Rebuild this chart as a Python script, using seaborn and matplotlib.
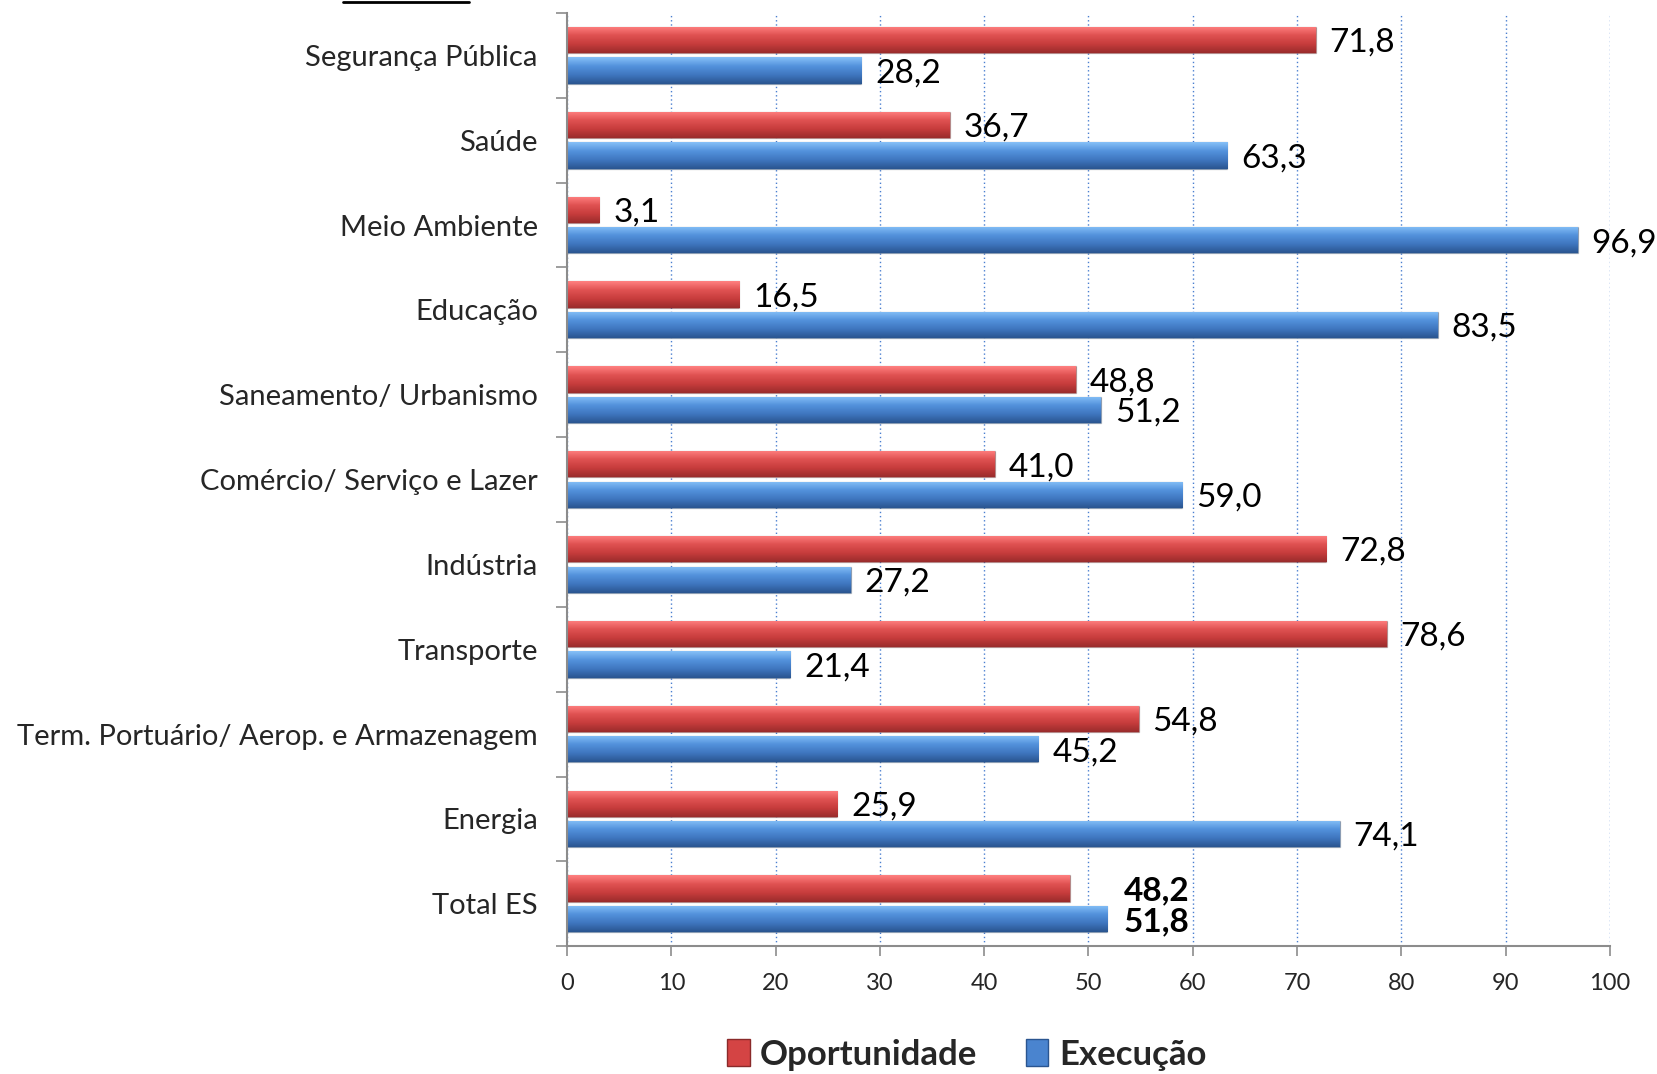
import numpy as np
import pandas as pd
import matplotlib.pyplot as plt
import seaborn as sns
from matplotlib.colors import LinearSegmentedColormap
from matplotlib.patches import Patch

sns.set_style("white")
plt.rcParams["font.family"] = ["Lato", "DejaVu Sans"]

categories = ["Segurança Pública", "Saúde", "Meio Ambiente", "Educação",
              "Saneamento/ Urbanismo", "Comércio/ Serviço e Lazer", "Indústria",
              "Transporte", "Term. Portuário/ Aerop. e Armazenagem", "Energia", "Total ES"]
oportunidade = [71.8, 36.7, 3.1, 16.5, 48.8, 41.0, 72.8, 78.6, 54.8, 25.9, 48.2]
execucao = [28.2, 63.3, 96.9, 83.5, 51.2, 59.0, 27.2, 21.4, 45.2, 74.1, 51.8]
series = ["Oportunidade", "Execução"]
xticks = list(range(0, 101, 10))

df = pd.DataFrame({
    "categoria": categories * 2,
    "valor": oportunidade + execucao,
    "serie": [series[0]] * len(categories) + [series[1]] * len(categories),
})

red = "#d44444"
blue = "#4a84cf"
grad = {
    red: ["#ff8080", "#e05252", "#c63c3c", "#9a2c2c"],
    blue: ["#86c0f8", "#5392dc", "#3f76bf", "#2a5590"],
}

fig = plt.figure(figsize=(16.58, 10.74), dpi=100)
ax = fig.add_axes([0.342, 0.119, 0.629, 0.869])

sns.barplot(data=df, x="valor", y="categoria", hue="serie", orient="h",
            palette=[red, blue], width=0.72, gap=0.14, ax=ax, legend=False)

ax.set_xlim(0, 100)
ylim = ax.get_ylim()

# fake bevel: gradient clipped to each bar
for cont, col in zip(ax.containers, [red, blue]):
    cmap = LinearSegmentedColormap.from_list("g", grad[col])
    for p in cont:
        x0, y0 = p.get_x(), p.get_y()
        w, h = p.get_width(), p.get_height()
        img = ax.imshow(np.linspace(0, 1, 64).reshape(-1, 1), cmap=cmap, aspect="auto",
                        extent=[x0, x0 + w, y0 + h, y0], origin="upper", zorder=p.get_zorder() + 0.1)
        img.set_clip_path(p)
        p.set_edgecolor("#00000030")
ax.set_xlim(0, 100)
ax.set_ylim(ylim)

# value labels
n = len(categories)
for k, (cont, vals) in enumerate(zip(ax.containers, [oportunidade, execucao])):
    for i, (p, v) in enumerate(zip(cont, vals)):
        yc = p.get_y() + p.get_height() / 2
        txt = f"{v:.1f}".replace(".", ",")
        if i == n - 1:
            xpos = max(oportunidade[i], execucao[i])
            ax.annotate(txt, (xpos, yc), xytext=(12, -2), textcoords="offset points",
                        va="center", ha="left", fontsize=24, fontweight="bold", color="black")
        else:
            ax.annotate(txt, (v, yc), xytext=(10, -2), textcoords="offset points",
                        va="center", ha="left", fontsize=24, color="black")

# grid / spines
ax.set_xticks(xticks)
ax.xaxis.grid(True, linestyle=(0, (1, 2)), color="#4a7fd0", linewidth=1.0)
ax.set_axisbelow(True)
for s in ["top", "right"]:
    ax.spines[s].set_visible(False)
for s in ["left", "bottom"]:
    ax.spines[s].set_color("#8c8c8c")
    ax.spines[s].set_linewidth(1.5)
ax.tick_params(axis="x", length=7, width=1.2, color="#8c8c8c", labelsize=17, pad=12, bottom=True)
ax.tick_params(axis="y", which="major", length=0, labelsize=21, pad=21)
ax.set_yticks(np.arange(-0.5, n, 1), minor=True)
ax.tick_params(axis="y", which="minor", length=8, width=1.2, color="#8c8c8c", left=True)
ax.set_xlabel("")
ax.set_ylabel("")

# legend
handles = [Patch(facecolor=red, edgecolor="#8a2a2a"), Patch(facecolor=blue, edgecolor="#2a5590")]
fig.legend(handles, series, loc="lower center", bbox_to_anchor=(0.583, -0.026), ncol=2,
           frameon=False, prop={"size": 25, "weight": "bold"}, handlelength=0.65, handleheight=0.8,
           handletextpad=0.3, columnspacing=1.4)

# fragment of the cut-off title underline
fig.add_artist(plt.Line2D([0.207, 0.283], [0.998, 0.998], color="black", linewidth=2))

plt.savefig("out.png", dpi=100)
